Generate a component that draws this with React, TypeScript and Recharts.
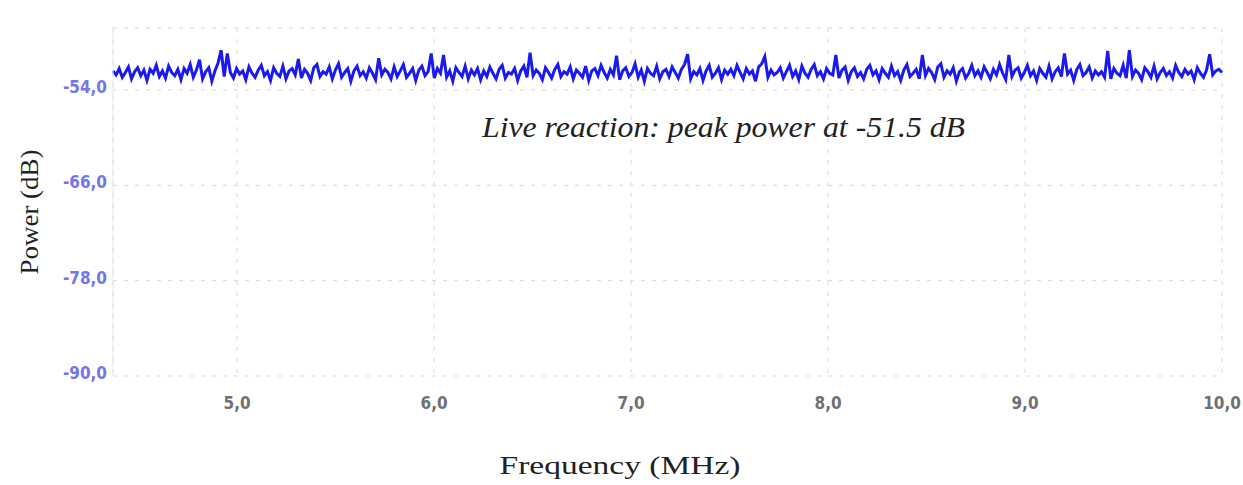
import React from 'react';
import { LineChart, Line, XAxis, YAxis, CartesianGrid, Label } from 'recharts';

// Sweep range of the analyser (MHz)
const FREQ_START = 4.37;
const FREQ_END = 10.0;

// Measured power per bin (dB), read left to right across the sweep
const powerDb = [
  -51.6, -52.1, -51.3, -52.4, -51.8, -51.1, -52.6, -51.7, -51.2, -52.2, -51.5, -52.8, -51.4, -51.9, -50.9, -52.3, -51.6, -52.5, -51.0, -51.8,
  -52.2, -51.4, -52.7, -51.3, -51.9, -50.8, -52.4, -51.5, -50.2, -52.6, -51.7, -51.2, -52.9, -51.6, -50.6, -49.0, -52.3, -49.4, -51.8, -52.5,
  -51.3, -52.0, -51.6, -52.7, -51.1, -51.9, -52.4, -51.5, -50.9, -52.2, -51.7, -52.8, -51.2, -51.9, -52.3, -51.0, -52.6, -51.6, -51.3, -52.1,
  -50.1, -52.5, -51.4, -51.9, -52.8, -51.2, -50.8, -52.3, -51.7, -52.0, -51.1, -52.6, -51.5, -50.7, -52.4, -51.8, -51.3, -52.9, -51.6, -51.0,
  -52.2, -51.7, -52.5, -51.2, -51.9, -52.7, -50.0, -52.1, -51.4, -51.8, -52.6, -51.1, -52.3, -51.6, -50.8, -52.4, -51.9, -51.3, -52.8, -51.5,
  -51.0, -52.2, -51.7, -49.4, -52.5, -51.3, -51.9, -49.6, -52.4, -51.6, -52.9, -51.2, -51.8, -52.3, -51.0, -52.6, -51.5, -52.1, -51.3, -52.7,
  -51.6, -52.3, -51.1, -51.9, -52.6, -51.4, -50.9, -52.5, -51.8, -52.0, -51.3, -52.8, -51.6, -51.0, -52.4, -49.3, -52.2, -51.5, -51.9, -52.7,
  -51.2, -51.8, -52.5, -51.4, -50.8, -52.3, -51.7, -52.0, -51.1, -52.6, -51.5, -51.9, -52.4, -51.0, -52.8, -51.6, -51.3, -52.2, -50.9, -51.8,
  -52.5, -51.4, -52.1, -49.7, -52.7, -51.6, -51.2, -52.3, -51.8, -50.7, -52.4, -51.5, -52.9, -51.3, -51.9, -52.2, -51.0, -52.6, -51.7, -51.4,
  -52.3, -51.1, -51.8, -52.5, -51.4, -50.8, -49.5, -52.6, -51.7, -52.1, -51.3, -52.8, -51.6, -50.9, -52.4, -51.9, -51.2, -52.7, -51.5, -52.0,
  -51.4, -52.2, -50.9, -51.8, -52.6, -51.3, -52.0, -51.6, -52.9, -51.1, -50.7, -49.8, -52.4, -51.5, -52.1, -51.8, -51.2, -52.5, -51.7, -50.9,
  -52.3, -51.6, -52.7, -51.0, -51.9, -52.4, -51.4, -50.8, -52.2, -51.7, -52.6, -51.3, -51.9, -52.1, -49.6, -52.5, -51.5, -51.1, -52.8, -51.7,
  -51.2, -52.3, -51.8, -52.6, -51.4, -50.9, -52.1, -51.6, -52.7, -51.3, -51.9, -52.4, -51.0, -52.2, -51.7, -52.8, -51.5, -50.8, -52.3, -51.9,
  -51.4, -52.6, -49.6, -52.2, -51.3, -51.8, -52.7, -51.1, -50.7, -52.4, -51.6, -52.0, -51.2, -52.9, -51.7, -51.3, -52.5, -51.9, -50.9, -52.2,
  -51.6, -52.4, -51.1, -51.8, -52.6, -51.4, -52.1, -50.8, -51.9, -52.7, -49.6, -52.3, -51.5, -51.2, -52.5, -51.8, -50.9, -52.2, -51.6, -52.8,
  -51.3, -51.9, -52.4, -51.0, -52.6, -51.7, -51.2, -52.3, -49.4, -52.0, -51.5, -52.8, -51.4, -50.8, -52.2, -51.8, -51.1, -52.5, -51.6, -52.1,
  -51.7, -52.4, -49.1, -52.6, -51.3, -51.9, -52.2, -50.9, -52.5, -49.0, -52.3, -51.5, -51.9, -52.7, -51.2, -51.7, -52.4, -51.0, -52.6, -51.8,
  -51.3, -52.2, -51.7, -52.5, -50.9, -51.8, -52.3, -51.4, -52.0, -51.6, -52.7, -51.2, -51.9, -52.4, -51.5, -49.5, -52.1, -51.6, -51.4, -51.8,
];

const freqTicks = [5, 6, 7, 8, 9, 10];
const powerTicks = [-90, -78, -66, -54];
const peakText = 'Live reaction: peak power at -51.5 dB';

// bins are evenly spaced over the sweep
const step = (FREQ_END - FREQ_START) / (powerDb.length - 1);
const data = powerDb.map((p, i) => ({ freq: FREQ_START + i * step, power: p }));

const fmt = (v: number) => v.toFixed(1).replace('.', ',');

const serifStyle = { fontFamily: '"Liberation Serif", Tinos, "Times New Roman", Times, serif' };
const tickFont = 'DejaVu Sans Condensed';

const App: React.FC = () => {
  return (
    <div style={{ position: 'absolute', left: 0, top: 0, background: '#fff' }}>
      <LineChart width={1243} height={485} data={data} margin={{ top: 28, right: 21, bottom: 79, left: 0 }}>
        <CartesianGrid stroke="#c9dbe6" strokeDasharray="4 7" />
        <XAxis
          dataKey="freq"
          type="number"
          domain={[FREQ_START, FREQ_END]}
          ticks={freqTicks}
          tickFormatter={fmt}
          axisLine={false}
          tickLine={false}
          tickSize={0}
          tickMargin={21}
          height={30}
          tick={{ fill: '#707070', fontSize: 17, fontFamily: tickFont, fontWeight: 'bold' }}
        >
          <Label
            content={() => (
              <text x={620} y={474} textAnchor="middle" style={serifStyle} fontSize={25} fill="#222" textLength={241} lengthAdjust="spacingAndGlyphs">
                Frequency (MHz)
              </text>
            )}
          />
          <Label
            content={() => (
              <text x={482} y={137} style={serifStyle} fontStyle="italic" fontSize={30} fill="#222" textLength={483} lengthAdjust="spacingAndGlyphs">
                {peakText}
              </text>
            )}
          />
        </XAxis>
        <YAxis
          type="number"
          domain={[-90, -46.2]}
          ticks={powerTicks}
          tickFormatter={fmt}
          width={113}
          axisLine={{ stroke: '#dde9f0' }}
          tickLine={false}
          tickSize={0}
          tickMargin={6}
          tick={{ fill: '#7474ee', fontSize: 17, fontFamily: tickFont, fontWeight: 'bold', dy: -3 }}
        >
          <Label
            content={() => (
              <text
                x={29}
                y={212}
                transform="rotate(-90 29 212)"
                textAnchor="middle"
                dominantBaseline="central"
                style={serifStyle}
                fontSize={25}
                fill="#222"
                textLength={125}
                lengthAdjust="spacingAndGlyphs"
              >
                Power (dB)
              </text>
            )}
          />
        </YAxis>
        <Line type="linear" dataKey="power" stroke="#1a1aee" strokeWidth={3} dot={false} isAnimationActive={false} />
      </LineChart>
    </div>
  );
};

export default App;
